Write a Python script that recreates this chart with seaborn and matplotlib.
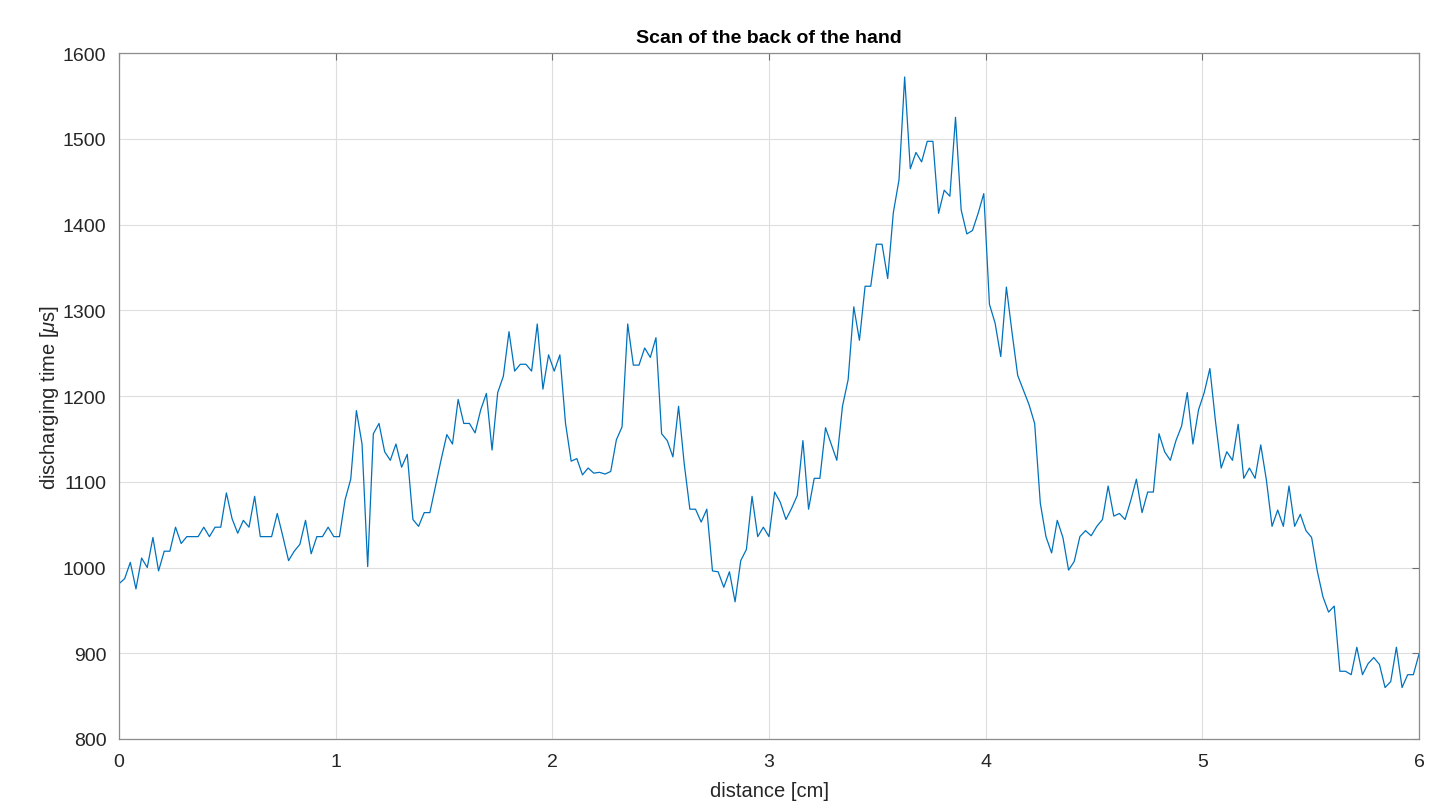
import numpy as np
import pandas as pd
import matplotlib
matplotlib.use("Agg")
import matplotlib.pyplot as plt
import seaborn as sns

# ---- data (231 samples from 0 to 6 cm) ----
discharge_us = [
    981, 987, 1006, 975, 1011, 1000, 1035, 996, 1019, 1019,
    1047, 1028, 1036, 1036, 1036, 1047, 1036, 1047, 1047, 1087,
    1057, 1040, 1055, 1047, 1083, 1036, 1036, 1036, 1063, 1036,
    1008, 1019, 1027, 1055, 1016, 1036, 1036, 1047, 1036, 1036,
    1079, 1103, 1183, 1144, 1001, 1156, 1168, 1135, 1125, 1144,
    1117, 1132, 1056, 1048, 1064, 1064, 1095, 1126, 1155, 1144,
    1196, 1168, 1168, 1157, 1184, 1203, 1137, 1204, 1223, 1275,
    1229, 1237, 1237, 1229, 1284, 1208, 1248, 1229, 1248, 1168,
    1124, 1127, 1108, 1116, 1110, 1111, 1109, 1112, 1149, 1164,
    1284, 1236, 1236, 1256, 1245, 1268, 1156, 1148, 1129, 1188,
    1121, 1068, 1068, 1053, 1068, 996, 995, 977, 995, 960,
    1008, 1021, 1083, 1036, 1047, 1036, 1088, 1076, 1056, 1069,
    1084, 1148, 1068, 1104, 1104, 1163, 1144, 1125, 1188, 1219,
    1304, 1265, 1328, 1328, 1377, 1377, 1337, 1414, 1452, 1572,
    1465, 1484, 1473, 1497, 1497, 1413, 1440, 1433, 1525, 1417,
    1389, 1393, 1413, 1436, 1307, 1285, 1246, 1327, 1274, 1224,
    1207, 1190, 1168, 1075, 1036, 1017, 1055, 1035, 997, 1007,
    1036, 1043, 1037, 1048, 1056, 1095, 1060, 1063, 1056, 1078,
    1103, 1064, 1088, 1088, 1156, 1135, 1125, 1148, 1165, 1204,
    1144, 1184, 1204, 1232, 1170, 1116, 1135, 1125, 1167, 1104,
    1116, 1104, 1143, 1102, 1048, 1067, 1048, 1095, 1048, 1062,
    1043, 1035, 996, 966, 948, 955, 879, 879, 875, 907,
    875, 888, 895, 887, 860, 867, 907, 860, 875, 875,
    899,
]
distance_cm = np.linspace(0, 6, len(discharge_us))

x_ticks = [0, 1, 2, 3, 4, 5, 6]
y_ticks = [800, 900, 1000, 1100, 1200, 1300, 1400, 1500, 1600]

df = pd.DataFrame({"distance": distance_cm, "time": discharge_us})

# ---- style (MATLAB-like look) ----
sns.set_style("white")
plt.rcParams["font.family"] = ["Liberation Sans", "DejaVu Sans"]
plt.rcParams["mathtext.fontset"] = "custom"
plt.rcParams["mathtext.it"] = "Liberation Sans:italic"
plt.rcParams["mathtext.rm"] = "Liberation Sans"

fig = plt.figure(figsize=(14.31, 8.04), dpi=100)
ax = fig.add_axes([119 / 1431, 1 - 740 / 804, 1300 / 1431, 686 / 804])

sns.lineplot(data=df, x="distance", y="time", ax=ax,
             color="#0072BD", linewidth=0.9)

ax.set_xlim(0, 6)
ax.set_ylim(800, 1600)
ax.set_xticks(x_ticks)
ax.set_yticks(y_ticks)
ax.grid(True, color="#dedede", linewidth=0.8)
ax.set_axisbelow(True)

for s in ax.spines.values():
    s.set_color("#8c8c8c")
    s.set_linewidth(0.9)
ax.tick_params(direction="in", length=5, width=0.8, color="#6e6e6e",
               labelsize=14, labelcolor="#262626", top=True, right=True,
               labeltop=False, labelright=False)
ax.tick_params(axis="x", pad=10)
ax.tick_params(axis="y", pad=9)

ax.set_xlabel("distance [cm]", fontsize=14.5, color="#262626", labelpad=8)
ax.set_ylabel(r"discharging time [$\mu$s]", fontsize=14.5, color="#262626",
              labelpad=1)
ax.set_title("Scan of the back of the hand", fontsize=14, fontweight="bold",
             color="black", pad=8)

fig.savefig("out.png", dpi=100)
